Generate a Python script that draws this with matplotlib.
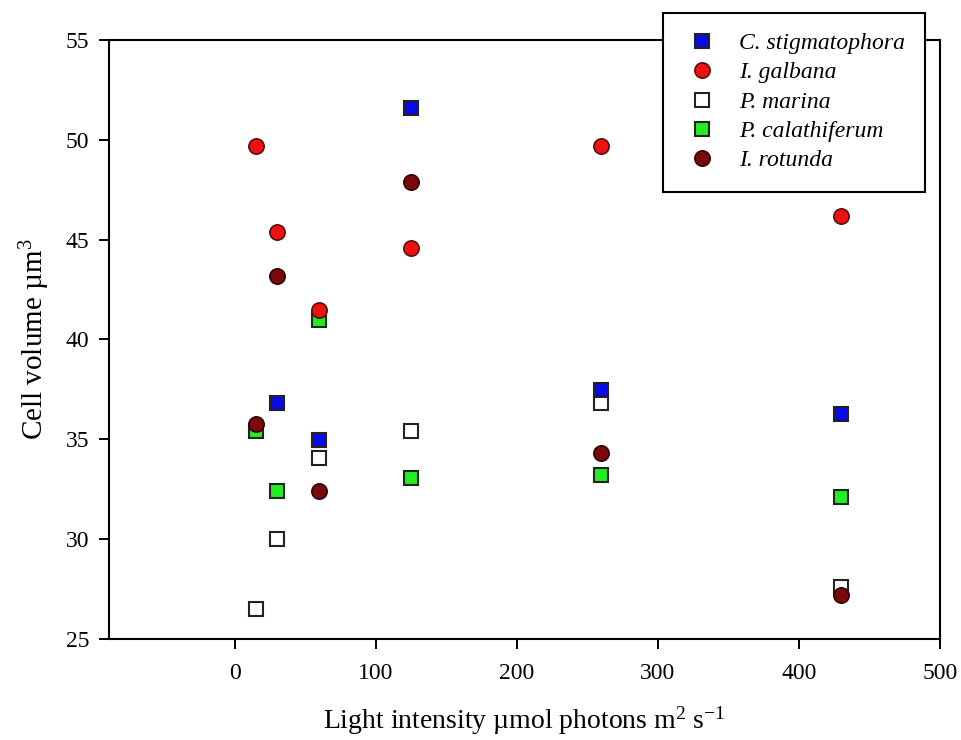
import matplotlib
matplotlib.use("Agg")
import matplotlib.pyplot as plt

plt.rcParams['font.family'] = ['Liberation Serif', 'DejaVu Serif']
plt.rcParams['mathtext.fontset'] = 'custom'
plt.rcParams['mathtext.rm'] = 'Liberation Serif'
plt.rcParams['mathtext.it'] = 'Liberation Serif:italic'

# light intensities
light = [15, 30, 60, 125, 260, 430]

# cell volumes per species (C. stigmatophora has no point at 15)
c_stig = [None, 36.8, 34.95, 51.6, 37.45, 36.25]
i_galb = [49.7, 45.4, 41.5, 44.6, 49.7, 46.2]
p_mar = [26.5, 30.0, 34.05, 35.4, 36.8, 27.6]
p_cal = [35.4, 32.4, 41.0, 33.05, 33.2, 32.1]
i_rot = [35.75, 43.2, 32.4, 47.9, 34.3, 27.2]

fig = plt.figure(figsize=(9.61, 7.4), dpi=100)
ax = fig.add_axes([0.1134, 0.1365, 0.8647, 0.8095])

def pts(vals):
    xs = [x for x, v in zip(light, vals) if v is not None]
    ys = [v for v in vals if v is not None]
    return xs, ys

# draw order chosen so overlaps look like the original
h_mar, = ax.plot(*pts(p_mar), 's', ms=9.5, mfc='white', mec='#222222', mew=1.5, zorder=3)
h_cal, = ax.plot(*pts(p_cal), 's', ms=9.5, mfc='#22ee22', mec='#222222', mew=1.5, zorder=3)
h_stig, = ax.plot(*pts(c_stig), 's', ms=9.5, mfc='#0a0ae6', mec='#222222', mew=1.5, zorder=4)
h_galb, = ax.plot(*pts(i_galb), 'o', ms=11, mfc='#ee1111', mec='#551111', mew=1.2, zorder=5)
h_rot, = ax.plot(*pts(i_rot), 'o', ms=11, mfc='#7a0a0a', mec='#330000', mew=1.2, zorder=6)

ax.set_xlim(-89, 500)
ax.set_ylim(25, 55)
ax.set_xticks([0, 100, 200, 300, 400, 500])
ax.set_yticks([25, 30, 35, 40, 45, 50, 55])
ax.tick_params(direction='out', length=7, width=1.4, labelsize=17)
ax.tick_params(axis='x', pad=10)
ax.tick_params(axis='y', pad=7)
for s in ax.spines.values():
    s.set_linewidth(1.5)

ax.set_xlabel('Light intensity µmol photons m$^{2}$ s$^{-1}$', fontsize=20, labelpad=15)
ax.set_ylabel('Cell volume µm$^{3}$', fontsize=21, labelpad=10)

leg = fig.legend([h_stig, h_galb, h_mar, h_cal, h_rot],
                 ['C. stigmatophora', 'I. galbana', 'P. marina', 'P. calathiferum', 'I. rotunda'],
                 loc='upper left', bbox_to_anchor=(0.69, 0.983), frameon=True, fancybox=False,
                 edgecolor='black', framealpha=1, prop={'style': 'italic', 'size': 17},
                 borderpad=0.85, labelspacing=0.33, handletextpad=0.75, borderaxespad=0,
                 handlelength=1.6)
leg.get_frame().set_linewidth(1.5)

fig.savefig('out.png', dpi=100)
